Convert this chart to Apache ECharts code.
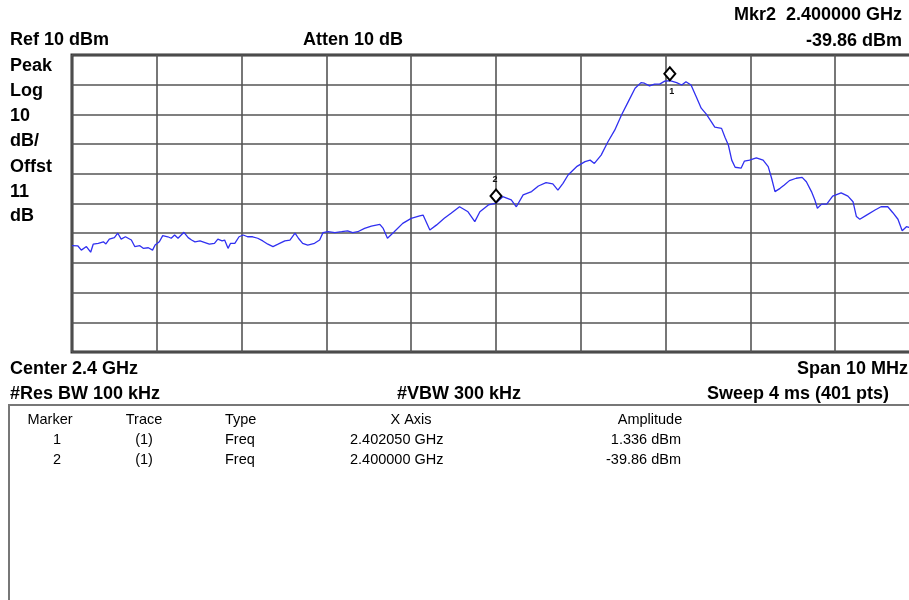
<!DOCTYPE html>
<html>
<head>
<meta charset="utf-8">
<script src="https://cdn.jsdelivr.net/npm/echarts@6/dist/echarts.min.js"></script>
<style>
  html, body { margin: 0; padding: 0; background: #fff; overflow: hidden; }
  /* the screen capture cuts the plot off on the right, so the canvas is wider than the window */
  #main { width: 930px; height: 600px; }
</style>
</head>
<body>
<div id="main"></div>
<script>
// trace (MHz, dBm)
const freqMHz = [
  2395.00, 2395.07, 2395.11, 2395.17, 2395.22, 2395.25, 2395.31, 2395.37, 2395.40, 2395.44,
  2395.50, 2395.54, 2395.58, 2395.63, 2395.70, 2395.74, 2395.80, 2395.84, 2395.90, 2395.95,
  2395.98, 2396.03, 2396.07, 2396.13, 2396.17, 2396.21, 2396.25, 2396.32, 2396.37, 2396.41,
  2396.45, 2396.51, 2396.56, 2396.62, 2396.68, 2396.72, 2396.77, 2396.80, 2396.84, 2396.87,
  2396.92, 2396.97, 2397.02, 2397.07, 2397.13, 2397.19, 2397.25, 2397.31, 2397.37, 2397.43,
  2397.51, 2397.57, 2397.63, 2397.67, 2397.72, 2397.78, 2397.86, 2397.92, 2397.96, 2398.02,
  2398.10, 2398.18, 2398.25, 2398.31, 2398.37, 2398.45, 2398.53, 2398.63, 2398.67, 2398.72,
  2398.80, 2398.90, 2399.00, 2399.10, 2399.14, 2399.22, 2399.30, 2399.39, 2399.47, 2399.57,
  2399.67, 2399.75, 2399.81, 2399.91, 2400.00, 2400.08, 2400.18, 2400.24, 2400.32, 2400.42,
  2400.50, 2400.59, 2400.67, 2400.73, 2400.79, 2400.85, 2400.95, 2401.05, 2401.11, 2401.16,
  2401.24, 2401.32, 2401.40, 2401.48, 2401.56, 2401.64, 2401.71, 2401.75, 2401.81, 2401.87,
  2401.93, 2401.99, 2402.05, 2402.13, 2402.19, 2402.24, 2402.30, 2402.36, 2402.42, 2402.48,
  2402.54, 2402.58, 2402.66, 2402.70, 2402.74, 2402.78, 2402.82, 2402.89, 2402.93, 2402.99,
  2403.07, 2403.15, 2403.21, 2403.25, 2403.29, 2403.35, 2403.40, 2403.46, 2403.54, 2403.61,
  2403.66, 2403.72, 2403.76, 2403.79, 2403.84, 2403.90, 2403.97, 2404.07, 2404.15, 2404.21,
  2404.25, 2404.29, 2404.37, 2404.47, 2404.54, 2404.62, 2404.68, 2404.74, 2404.79, 2404.84,
  2404.92, 2405.00
];
const ampDbm = [
  -54.2, -54.3, -55.7, -54.5, -56.4, -53.7, -53.4, -52.9, -53.6, -52.0,
  -51.5, -50.0, -52.0, -51.2, -52.3, -54.5, -54.2, -55.1, -54.9, -55.7,
  -54.0, -52.9, -50.8, -51.2, -51.7, -50.6, -51.7, -49.7, -51.5, -52.3,
  -52.9, -52.6, -53.1, -53.7, -53.4, -52.0, -52.6, -52.3, -55.1, -53.4,
  -53.4, -51.2, -50.6, -51.2, -51.2, -51.7, -52.6, -53.7, -54.5, -53.7,
  -52.6, -52.3, -50.0, -51.7, -53.4, -54.0, -53.4, -52.3, -49.8, -49.5,
  -49.8, -49.5, -49.2, -49.8, -49.5, -48.4, -47.6, -47.0, -48.4, -51.7,
  -49.5, -46.7, -45.0, -44.2, -43.9, -48.9, -47.2, -45.0, -43.3, -41.1,
  -42.8, -46.1, -42.8, -40.5, -39.86, -37.7, -38.8, -41.1, -37.1, -36.0,
  -34.1, -33.0, -33.4, -35.5, -33.2, -30.4, -27.6, -25.9, -25.4, -26.5,
  -23.7, -19.2, -15.3, -10.2, -5.7, -1.2, 0.7, 0.5, -0.4, 0.2,
  0.2, 1.2, 1.336, 0.7, -0.1, 1.0, -0.1, -4.0, -7.9, -9.9,
  -12.5, -14.3, -14.7, -17.7, -20.3, -25.4, -27.8, -28.1, -25.7, -25.4,
  -24.6, -25.4, -27.6, -31.5, -36.0, -34.9, -33.8, -32.3, -31.5, -31.2,
  -32.7, -36.0, -38.8, -41.6, -40.2, -40.2, -37.5, -36.4, -37.5, -39.4,
  -44.4, -45.3, -43.9, -42.2, -41.1, -41.1, -43.1, -45.3, -49.2, -47.8,
  -48.5, -49.0
];

// marker table
const markerIds = ['1', '2'];
const markerTrace = ['(1)', '(1)'];
const markerType = ['Freq', 'Freq'];
const markerFreq = [2402.05, 2400.0];
const markerAmp = [1.336, -39.86];
const markerXText = ['2.402050 GHz', '2.400000 GHz'];
const markerAmpText = ['1.336 dBm', '-39.86 dBm'];

const FONT = 'Liberation Sans, Arial, sans-serif';

const chart = echarts.init(document.getElementById('main'));

const txt = (x, y, s, o) => ({
  type: 'text',
  silent: true,
  style: Object.assign({
    text: s, x: x, y: y,
    fill: '#000',
    fontFamily: FONT,
    fontSize: 18,
    fontWeight: 'bold',
    align: 'left',
    verticalAlign: 'middle'
  }, o || {})
});

const graphics = [
  txt(902, 15, 'Mkr2  2.400000 GHz', { align: 'right' }),
  txt(10, 40, 'Ref 10 dBm'),
  txt(303, 40, 'Atten 10 dB'),
  txt(902, 41, '-39.86 dBm', { align: 'right' }),
  txt(10, 66, 'Peak'),
  txt(10, 91, 'Log'),
  txt(10, 116, '10'),
  txt(10, 141, 'dB/'),
  txt(10, 167, 'Offst'),
  txt(10, 192, '11'),
  txt(10, 216, 'dB'),
  txt(10, 369, 'Center 2.4 GHz'),
  txt(797, 369, 'Span 10 MHz'),
  txt(10, 394, '#Res BW 100 kHz'),
  txt(397, 394, '#VBW 300 kHz'),
  txt(707, 394, 'Sweep 4 ms (401 pts)'),
  {
    type: 'rect',
    silent: true,
    shape: { x: 9, y: 405, width: 940, height: 230 },
    style: { fill: 'none', stroke: '#777', lineWidth: 2 }
  }
];

// table of markers
const tf = { fontSize: 14.5, fontWeight: 'normal' };
graphics.push(
  txt(50, 420, 'Marker', Object.assign({ align: 'center' }, tf)),
  txt(144, 420, 'Trace', Object.assign({ align: 'center' }, tf)),
  txt(225, 420, 'Type', tf),
  txt(411, 420, 'X Axis', Object.assign({ align: 'center' }, tf)),
  txt(650, 420, 'Amplitude', Object.assign({ align: 'center' }, tf))
);
markerIds.forEach((id, i) => {
  const y = 440 + i * 20;
  graphics.push(
    txt(57, y, id, Object.assign({ align: 'center' }, tf)),
    txt(144, y, markerTrace[i], Object.assign({ align: 'center' }, tf)),
    txt(225, y, markerType[i], tf),
    txt(350, y, markerXText[i], tf),
    txt(681, y, markerAmpText[i], Object.assign({ align: 'right' }, tf))
  );
});

const gridLine = { show: true, lineStyle: { color: '#555', width: 1.6 } };

const option = {
  backgroundColor: '#fff',
  animation: false,
  grid: {
    left: 72, top: 55, width: 848, height: 297,
    outerBoundsMode: 'none',
    show: true, borderColor: '#333', borderWidth: 3, backgroundColor: 'transparent'
  },
  xAxis: {
    type: 'value', min: 2395, max: 2405, interval: 1,
    axisLabel: { show: false }, axisTick: { show: false }, axisLine: { show: false },
    splitLine: gridLine
  },
  yAxis: {
    type: 'value', min: -90, max: 10, interval: 10,
    axisLabel: { show: false }, axisTick: { show: false }, axisLine: { show: false },
    splitLine: gridLine
  },
  series: [{
    type: 'line',
    data: freqMHz.map((f, i) => [f, ampDbm[i]]),
    showSymbol: false,
    lineStyle: { color: '#3030f0', width: 1.3 },
    markPoint: {
      symbol: 'diamond',
      symbolSize: [11, 13],
      symbolOffset: [0, -7],
      itemStyle: { color: '#fff', borderColor: '#000', borderWidth: 2 },
      data: markerIds.map((id, i) => ({
        coord: [markerFreq[i], markerAmp[i]],
        label: {
          show: true,
          formatter: id,
          position: 'inside',
          offset: i === 0 ? [2, 18] : [-1, -17],
          color: '#111',
          fontSize: 9,
          fontWeight: 'bold',
          fontFamily: FONT
        }
      }))
    }
  }],
  graphic: graphics
};

chart.setOption(option);
</script>
</body>
</html>
